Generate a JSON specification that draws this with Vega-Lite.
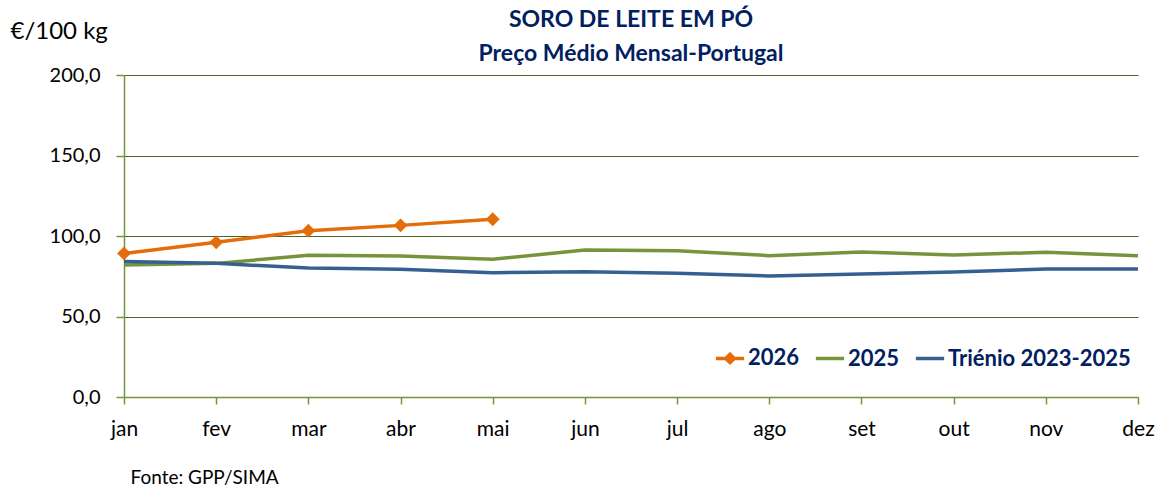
{
  "$schema": "https://vega.github.io/schema/vega-lite/v6.json",
  "width": 1014,
  "height": 322,
  "autosize": "none",
  "padding": {"left": 124, "top": 75, "right": 25, "bottom": 91},
  "background": "white",
  "config": {"view": {"stroke": null}, "font": "Lato"},
  "title": {
    "text": ["SORO DE LEITE EM PÓ", "Preço Médio Mensal-Portugal"],
    "anchor": "middle",
    "font": "Lato",
    "fontSize": 23,
    "fontWeight": "bold",
    "color": "#002060",
    "lineHeight": 34,
    "offset": -47
  },
  "data": {
    "values": [
      {"mes": "jan", "serie": "2026", "valor": 89.2},
      {"mes": "fev", "serie": "2026", "valor": 96.1},
      {"mes": "mar", "serie": "2026", "valor": 103.3},
      {"mes": "abr", "serie": "2026", "valor": 106.6},
      {"mes": "mai", "serie": "2026", "valor": 110.4},
      {"mes": "jan", "serie": "2025", "valor": 82.0},
      {"mes": "fev", "serie": "2025", "valor": 83.0},
      {"mes": "mar", "serie": "2025", "valor": 88.0},
      {"mes": "abr", "serie": "2025", "valor": 87.6},
      {"mes": "mai", "serie": "2025", "valor": 85.5},
      {"mes": "jun", "serie": "2025", "valor": 91.3},
      {"mes": "jul", "serie": "2025", "valor": 90.9},
      {"mes": "ago", "serie": "2025", "valor": 87.8},
      {"mes": "set", "serie": "2025", "valor": 90.1},
      {"mes": "out", "serie": "2025", "valor": 88.2},
      {"mes": "nov", "serie": "2025", "valor": 89.9},
      {"mes": "dez", "serie": "2025", "valor": 87.8},
      {"mes": "jan", "serie": "Triénio 2023-2025", "valor": 84.1},
      {"mes": "fev", "serie": "Triénio 2023-2025", "valor": 83.0},
      {"mes": "mar", "serie": "Triénio 2023-2025", "valor": 80.1},
      {"mes": "abr", "serie": "Triénio 2023-2025", "valor": 79.3},
      {"mes": "mai", "serie": "Triénio 2023-2025", "valor": 77.2},
      {"mes": "jun", "serie": "Triénio 2023-2025", "valor": 77.8},
      {"mes": "jul", "serie": "Triénio 2023-2025", "valor": 76.8},
      {"mes": "ago", "serie": "Triénio 2023-2025", "valor": 75.2},
      {"mes": "set", "serie": "Triénio 2023-2025", "valor": 76.4},
      {"mes": "out", "serie": "Triénio 2023-2025", "valor": 77.6},
      {"mes": "nov", "serie": "Triénio 2023-2025", "valor": 79.5},
      {"mes": "dez", "serie": "Triénio 2023-2025", "valor": 79.5}
    ]
  },
  "encoding": {
    "x": {
      "field": "mes",
      "type": "ordinal",
      "sort": ["jan", "fev", "mar", "abr", "mai", "jun", "jul", "ago", "set", "out", "nov", "dez"],
      "scale": {"type": "point", "padding": 0},
      "axis": {
        "title": "Fonte: GPP/SIMA",
        "titleFont": "Lato",
        "titleFontSize": 19,
        "titleFontWeight": "normal",
        "titleColor": "#000000",
        "titleAnchor": "start",
        "titleAlign": "left",
        "titleBaseline": "alphabetic",
        "titleX": 6,
        "titleY": 86,
        "labelAngle": 0,
        "labelFontSize": 21,
        "labelColor": "#000000",
        "labelPadding": 14,
        "labelFont": "Lato",
        "domainColor": "#77933C",
        "domainWidth": 1.5,
        "tickColor": "#77933C",
        "tickWidth": 1.5,
        "tickSize": 7,
        "grid": false
      }
    },
    "y": {
      "field": "valor",
      "type": "quantitative",
      "scale": {"domain": [0, 200]},
      "axis": {
        "values": [0, 50, 100, 150, 200],
        "labelExpr": "replace(format(datum.value, '.1f'), '.', ',')",
        "title": "€/100 kg",
        "titleAngle": 0,
        "titleFont": "Lato",
        "titleFontSize": 24,
        "titleFontWeight": "normal",
        "titleColor": "#000000",
        "titleAlign": "left",
        "titleBaseline": "alphabetic",
        "titleX": -114,
        "titleY": -37,
        "labelFontSize": 20,
        "labelFont": "Lato",
        "labelColor": "#000000",
        "labelPadding": 16,
        "domainColor": "#77933C",
        "domainWidth": 1.5,
        "tickColor": "#77933C",
        "tickWidth": 1.5,
        "tickSize": 8,
        "grid": true,
        "gridColor": "#4F6228",
        "gridWidth": 1.2
      }
    },
    "color": {
      "field": "serie",
      "type": "nominal",
      "sort": ["2026", "2025", "Triénio 2023-2025"],
      "scale": {
        "domain": ["2026", "2025", "Triénio 2023-2025"],
        "range": ["#E46C0A", "#77933C", "#376092"]
      },
      "legend": {
        "title": null,
        "orient": "none",
        "legendX": 590,
        "legendY": 267,
        "direction": "horizontal",
        "symbolType": "stroke",
        "symbolStrokeWidth": 3.5,
        "symbolSize": 800,
        "labelFont": "Lato",
        "labelFontSize": 22,
        "labelFontWeight": "bold",
        "labelColor": "#002060",
        "labelOffset": 2,
        "labelLimit": 400,
        "columnPadding": 8,
        "encode": {
          "symbols": {
            "update": {
              "shape": {"signal": "datum.value === '2026' ? 'M-1,0L1,0M-0.3,0L0,-0.3L0.3,0L0,0.3Z' : 'stroke'"}
            }
          }
        }
      }
    }
  },
  "layer": [
    {"mark": {"type": "line", "strokeWidth": 3.5}},
    {
      "transform": [{"filter": "datum.serie === '2026'"}],
      "mark": {"type": "point", "shape": "diamond", "filled": true, "size": 190, "opacity": 1}
    }
  ]
}
